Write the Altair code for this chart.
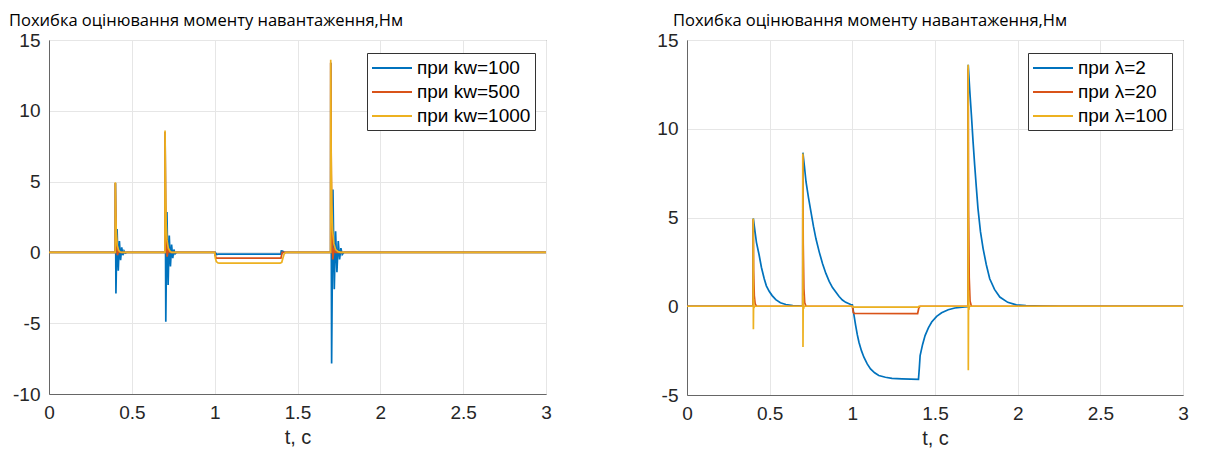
import altair as alt
import pandas as pd

TITLE = "Похибка оцінювання моменту навантаження,Нм"
COLORS = ["#0072BD", "#D95319", "#EDB120"]

# ---------- left panel (kw) ----------
kw_names = ["при kw=100", "при kw=500", "при kw=1000"]

kw100_t = [0, 0.400, 0.401, 0.404, 0.411, 0.418, 0.425, 0.432, 0.439, 0.446, 0.453, 0.460, 0.470,
           0.700, 0.701, 0.705, 0.712, 0.719, 0.726, 0.733, 0.740, 0.747, 0.754, 0.761, 0.770,
           1.000, 1.002, 1.006, 1.012, 1.020, 1.400, 1.402, 1.406, 1.412, 1.420,
           1.700, 1.701, 1.706, 1.714, 1.722, 1.730, 1.738, 1.746, 1.754, 1.762, 1.770, 1.780, 3.0]
kw100_v = [0, 0, 4.9, -2.9, 1.65, -1.3, 0.8, -0.55, 0.35, -0.2, 0.1, -0.05, 0,
           0, 8.5, -4.9, 2.85, -2.3, 1.2, -1.0, 0.55, -0.4, 0.2, -0.1, 0,
           0, -0.25, -0.05, -0.15, -0.12, -0.12, 0.15, -0.05, 0.08, 0,
           0, 13.4, -7.85, 4.45, -2.6, 1.5, -1.4, 0.8, -0.5, 0.3, -0.15, 0, 0]

kw500_t = [0, 0.400, 0.4005, 0.404, 0.408, 0.413, 0.420, 0.430,
           0.700, 0.7005, 0.704, 0.708, 0.713, 0.720, 0.730,
           1.000, 1.008, 1.400, 1.408,
           1.700, 1.7005, 1.704, 1.708, 1.713, 1.720, 1.730, 3.0]
kw500_v = [0, 0, 4.9, 2.0, 0.6, -0.2, 0.1, 0,
           0, 8.5, 3.5, 1.1, -0.3, 0.15, 0,
           0, -0.4, -0.4, 0,
           0, 13.4, 5.5, 1.8, -0.5, 0.2, 0, 0]

kw1000_t = [0, 0.400, 0.4005, 0.403, 0.407, 0.412, 0.420, 0.430, 0.440,
            0.700, 0.7005, 0.703, 0.707, 0.712, 0.720, 0.730, 0.740,
            1.000, 1.004, 1.010, 1.020, 1.030, 1.395, 1.405, 1.412, 1.420, 1.430,
            1.700, 1.7005, 1.703, 1.707, 1.712, 1.720, 1.730, 1.745, 1.760, 3.0]
kw1000_v = [0, 0, 4.95, 2.6, 1.2, 0.5, 0.15, 0.03, 0,
            0, 8.6, 4.6, 2.1, 0.9, 0.3, 0.08, 0,
            0, -0.4, -0.65, -0.74, -0.76, -0.76, -0.7, -0.4, -0.1, 0,
            0, 13.6, 7.2, 3.4, 1.5, 0.6, 0.2, 0.05, 0, 0]

# ---------- right panel (lambda) ----------
lam_names = ["при λ=2", "при λ=20", "при λ=100"]

lam2_t = [0, 0.400, 0.401, 0.410, 0.420, 0.436, 0.450, 0.467, 0.480, 0.497, 0.515, 0.537,
          0.565, 0.598, 0.640, 0.700,
          0.701, 0.710, 0.720, 0.735, 0.750, 0.765, 0.780, 0.800, 0.820, 0.840, 0.860,
          0.880, 0.900, 0.920, 0.940, 0.960, 0.990,
          1.000, 1.005, 1.010, 1.020, 1.030, 1.040, 1.055, 1.070, 1.090, 1.110, 1.135,
          1.160, 1.200, 1.240, 1.300, 1.400,
          1.405, 1.410, 1.425, 1.440, 1.460, 1.480, 1.510, 1.540, 1.580, 1.620, 1.680, 1.700,
          1.701, 1.710, 1.720, 1.730, 1.740, 1.750, 1.760, 1.775, 1.791, 1.810, 1.831,
          1.860, 1.892, 1.940, 1.992, 2.050, 2.150, 2.250, 3.0]
lam2_v = [0, 0, 4.95, 4.3, 3.6, 2.9, 2.2, 1.55, 1.15, 0.84, 0.6, 0.37,
          0.2, 0.1, 0.04, 0.01,
          8.65, 7.9, 7.0, 6.1, 5.3, 4.5, 3.8, 3.05, 2.4, 1.85, 1.4,
          1.05, 0.8, 0.55, 0.35, 0.22, 0.1,
          0.08, -0.2, -0.5, -1.08, -1.6, -2.03, -2.5, -2.87, -3.25, -3.53, -3.75,
          -3.9, -4.0, -4.06, -4.09, -4.12,
          -3.5, -2.78, -2.15, -1.65, -1.22, -0.89, -0.57, -0.37, -0.2, -0.1, -0.03, -0.02,
          13.6, 12.2, 10.8, 9.3, 7.95, 6.7, 5.5, 4.2, 3.25, 2.35, 1.55,
          0.95, 0.52, 0.22, 0.08, 0.03, 0.01, 0, 0]

lam20_t = [0, 0.400, 0.4005, 0.403, 0.407, 0.412, 0.420,
           0.700, 0.7005, 0.703, 0.707, 0.712, 0.720,
           1.000, 1.006, 1.012, 1.395, 1.402, 1.410,
           1.700, 1.7005, 1.703, 1.707, 1.712, 1.720, 3.0]
lam20_v = [0, 0, 4.9, 2.0, 0.6, 0.15, 0,
           0, 8.5, 3.5, 1.0, 0.2, 0,
           0, -0.35, -0.4, -0.41, -0.1, 0,
           0, 13.4, 5.4, 1.6, 0.3, 0, 0]

lam100_t = [0, 0.400, 0.4005, 0.4015, 0.403, 0.405, 0.408,
            0.700, 0.7005, 0.7015, 0.703, 0.705, 0.708,
            1.000, 1.003, 1.400, 1.403,
            1.700, 1.7005, 1.7015, 1.703, 1.705, 1.708, 3.0]
lam100_v = [0, 0, 4.95, -1.3, 0.4, -0.1, 0,
            0, 8.6, -2.3, 0.6, -0.15, 0,
            0, -0.05, -0.05, 0,
            0, 13.6, -3.6, 0.9, -0.2, 0, 0]


def frame(names, series):
    rows = []
    for name, (ts, vs) in zip(names, series):
        for t, v in zip(ts, vs):
            rows.append({"t": t, "v": v, "s": name})
    return pd.DataFrame(rows)


df_kw = frame(kw_names, [(kw100_t, kw100_v), (kw500_t, kw500_v), (kw1000_t, kw1000_v)])
df_lam = frame(lam_names, [(lam2_t, lam2_v), (lam20_t, lam20_v), (lam100_t, lam100_v)])

X_TICKS = [0, 0.5, 1, 1.5, 2, 2.5, 3]


def panel(df, names, ydom, yticks, w, h, title_dx, leg_x):
    return alt.Chart(df).mark_line(strokeWidth=1.7, clip=True).encode(
        x=alt.X("t:Q", scale=alt.Scale(domain=[0, 3], nice=False),
                axis=alt.Axis(values=X_TICKS, format="~g", title="t, c", labelFlush=False)),
        y=alt.Y("v:Q", scale=alt.Scale(domain=ydom, nice=False),
                axis=alt.Axis(values=yticks, title=None, labelFlush=False,
                              labelExpr="replace(datum.label, '\u2212', '-')",
                              minExtent=40, maxExtent=40)),
        color=alt.Color("s:N", sort=names,
                        scale=alt.Scale(domain=names, range=COLORS),
                        legend=alt.Legend(title=None, orient="none", legendX=leg_x, legendY=13,
                                          strokeColor="#333333", fillColor="white",
                                          padding=4, rowPadding=3,
                                          symbolType="M-2,0H2", symbolSize=400,
                                          symbolStrokeWidth=2, symbolOffset=10,
                                          labelOffset=14, labelFontSize=19,
                                          labelFont="Liberation Sans", labelColor="#000000")),
    ).properties(
        width=w, height=h,
        title=alt.TitleParams(TITLE, anchor="start", frame="group", dx=title_dx,
                              offset=2, fontSize=16.5, font="Open Sans",
                              fontWeight="normal", color="#000000"),
    )


left = panel(df_kw, kw_names, [-10, 15], [-10, -5, 0, 5, 10, 15], 497, 354, -40, 318)
right = panel(df_lam, lam_names, [-5, 15], [-5, 0, 5, 10, 15], 496, 355, -14, 341)

chart = alt.hconcat(left, right, spacing=141, bounds="flush").resolve_scale(
    color="independent"
).configure(
    padding={"left": 0, "top": 4, "right": 0, "bottom": 0},
    background="white",
).configure_view(
    stroke="#666666", strokeWidth=1
).configure_axis(
    grid=True, gridColor="#e6e6e6", gridWidth=1,
    domainColor="#666666", ticks=False,
    labelFont="Liberation Sans", labelFontSize=19, labelColor="#262626",
    labelPadding=9, titleFont="Liberation Sans", titleFontSize=20,
    titleColor="#262626", titleFontWeight="normal", titlePadding=5,
)

chart.save("out.html", embed_options={"renderer": "svg", "actions": False})
